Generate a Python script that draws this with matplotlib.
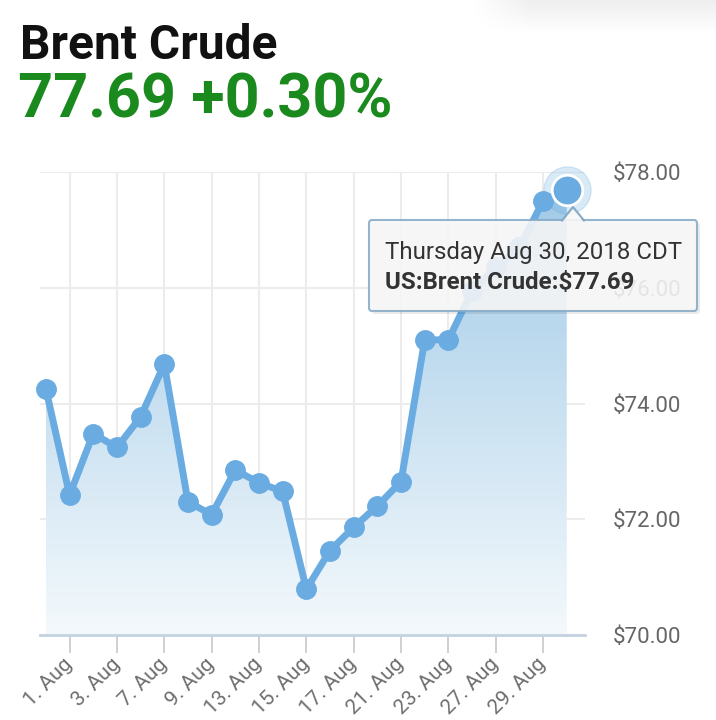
import numpy as np
import matplotlib
matplotlib.use('Agg')
import matplotlib.pyplot as plt
from matplotlib.patches import FancyBboxPatch, Polygon
from matplotlib.colors import LinearSegmentedColormap

# Data: Brent crude daily closes (trading days)
dates = ['31. Jul', '1. Aug', '2. Aug', '3. Aug', '6. Aug', '7. Aug', '8. Aug',
         '9. Aug', '10. Aug', '13. Aug', '14. Aug', '15. Aug', '16. Aug',
         '17. Aug', '20. Aug', '21. Aug', '22. Aug', '23. Aug', '24. Aug',
         '27. Aug', '28. Aug', '29. Aug', '30. Aug']
prices = [74.25, 72.42, 73.48, 73.24, 73.77, 74.68, 72.30, 72.08, 72.85,
          72.63, 72.48, 70.79, 71.46, 71.86, 72.23, 72.65, 75.10, 75.10,
          75.95, 76.35, 76.70, 77.50, 77.69]
yticks = [70, 72, 74, 76, 78]

title = 'Brent Crude'
quote = '77.69 +0.30%'
tip_date = 'Thursday Aug 30, 2018 CDT'
tip_value = 'US:Brent Crude:$77.69'

plt.rcParams['font.family'] = ['Roboto', 'DejaVu Sans']

line_col = '#6aace2'
grid_col = '#ececec'
label_col = '#666666'

x = np.arange(len(prices))
y = np.array(prices)

fig = plt.figure(figsize=(7.16, 7.2), dpi=100)
ax = fig.add_axes([40 / 716, 1 - 635 / 720, 545 / 716, 463 / 720])
ax.set_xlim(-0.25, 22.77)
ax.set_ylim(70, 78)

# gradient fill under the line
cmap = LinearSegmentedColormap.from_list('fade', ['#f4f9fc', '#9dc8e6'])
grad = np.linspace(0, 1, 256).reshape(-1, 1)
img = ax.imshow(grad, extent=[x[0], x[-1], 70, 78], origin='lower',
                cmap=cmap, aspect='auto', zorder=1)
poly = Polygon(np.column_stack([np.r_[x[0], x, x[-1]], np.r_[70, y, 70]]),
               closed=True, facecolor='none', edgecolor='none')
ax.add_patch(poly)
img.set_clip_path(poly)

ax.plot(x, y, color=line_col, lw=5, solid_joinstyle='round', zorder=3, clip_on=False)
ax.plot(x[:-1], y[:-1], 'o', color=line_col, ms=14, zorder=4, clip_on=False)
# hovered point with halo
ax.plot(x[-1], y[-1], 'o', color=line_col, ms=34, alpha=0.25, zorder=4, clip_on=False)
ax.plot(x[-1], y[-1], 'o', color=line_col, ms=22, mec='white', mew=2, zorder=5,
        clip_on=False)

ax.set_xticks(x[1::2])
ax.set_xticklabels(dates[1::2], rotation=45, ha='right', va='center',
                   rotation_mode='anchor', fontsize=15, color='#6e6e6e')
ax.tick_params(axis='x', length=13, width=1.2, color='#c8c8c8', pad=6)
ax.yaxis.tick_right()
ax.set_yticks(yticks)
ax.set_yticklabels([f'${v:.2f}' for v in yticks], fontsize=16, color=label_col)
ax.tick_params(axis='y', length=0, pad=20)
ax.grid(True, color=grid_col, lw=1.5, zorder=0)
ax.set_axisbelow(True)
for s in ['top', 'right', 'left']:
    ax.spines[s].set_visible(False)
ax.spines['bottom'].set_color('#c4d2e0')
ax.spines['bottom'].set_linewidth(2)

# headline texts
fig.text(20 / 716, 1 - 59 / 720, title, fontsize=34.5, fontweight='bold',
         color='#111111', va='baseline')
fig.text(18 / 716, 1 - 118 / 720, quote, fontsize=44, fontweight='bold',
         color='#1b8a1e', va='baseline')

# tooltip
tip_ax = fig.add_axes([0, 0, 1, 1], facecolor='none')
tip_ax.axis('off')
shadow = FancyBboxPatch((372, 223), 328, 91, boxstyle='round,pad=0,rounding_size=3',
                        facecolor='#000000', alpha=0.08, edgecolor='none')
tip_ax.add_patch(shadow)
box = FancyBboxPatch((369, 220), 328, 91, boxstyle='round,pad=0,rounding_size=3',
                     facecolor='#f8f8f8', alpha=0.88, edgecolor='#86aac6', lw=1.5)
tip_ax.add_patch(box)
tip_ax.plot([562, 573, 584], [220.5, 207, 220.5], color='#86aac6', lw=1.5)
tip_ax.add_patch(Polygon([[563, 221], [573, 209], [583, 221]], closed=True,
                         facecolor='#f8f8f8', alpha=0.9, edgecolor='none'))
tip_ax.text(385, 252, tip_date, fontsize=17.3, color='#333333', va='center')
tip_ax.text(385, 283, tip_value, fontsize=17.3, fontweight='bold', color='#333333',
            va='center')

# faint soft shadow at top right of the screenshot
yy = np.linspace(1, 0, 40).reshape(-1, 1)
xx = np.clip(np.linspace(0, 4, 200), 0, 1).reshape(1, -1)
alpha = 0.07 * yy * xx
rgba = np.zeros((40, 200, 4))
rgba[..., 3] = alpha
tip_ax.imshow(rgba, extent=[470, 716, 35, 0], aspect='auto', zorder=0)
tip_ax.set_xlim(0, 716)
tip_ax.set_ylim(720, 0)

fig.savefig('out.png', dpi=100, facecolor='white')
